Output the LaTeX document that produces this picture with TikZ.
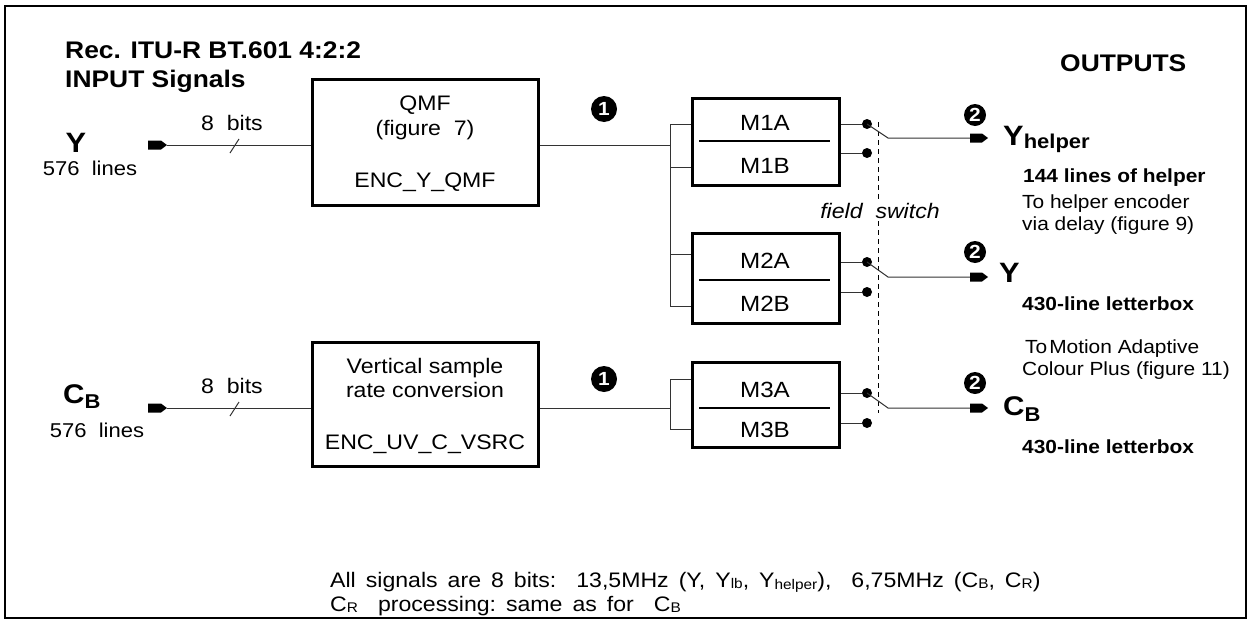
\documentclass[tikz,border=0pt]{standalone}
\usepackage{fontspec}
\setmainfont{Liberation Sans}[FakeStretch=1.1]
\usetikzlibrary{calc}
\newcommand{\fs}[1]{\fontsize{#1}{#1}\selectfont}
\newcommand{\ws}{\hspace{10pt}}
\begin{document}
\begin{tikzpicture}[x=1pt,y=-1pt,
  bigbox/.style={draw, line width=3pt, minimum width=226pt, minimum height=126pt, inner sep=0pt},
  mbox/.style={draw, line width=3pt, minimum width=147pt, inner sep=0pt},
  wire/.style={line width=1pt, draw=black!80},
  num/.style={circle, text=white, inner sep=0pt, minimum size=24pt, font=\fs{19}\bfseries},
  sdot/.style={circle, inner sep=0pt, minimum size=10pt},
  txt/.style={inner sep=0pt, anchor=base, font=\fs{21}},
  lt/.style={inner sep=0pt, anchor=base west},
  term/.style={fill=black},
]
\useasboundingbox (0,0) rectangle (1250,624);
\draw[line width=1.2pt] (5,6) rectangle (1246,618);

% titles
\node[lt, font=\fs{24}\bfseries] (t1) at (65,58) {Rec. ITU-R BT.601 4:2:2};
\node[lt, font=\fs{24}\bfseries] (t2) at (65,87) {INPUT Signals};
\node[lt, font=\fs{24}\bfseries] (out) at (1060,71) {OUTPUTS};

% inputs
\node[txt, font=\fs{28}\bfseries] (yin) at (76,152) {Y};
\node[txt, font=\fs{20}] (yinl) at (90,175) {576\ \ lines};
\node[lt, font=\fs{27}\bfseries] (cbin) at (63,403) {C\raisebox{-5pt}{\fs{20}B}};
\node[txt, font=\fs{20}] (cbinl) at (97,437) {576\ \ lines};
\node[txt] (b1) at (232,130) {8\ \ bits};
\node[txt] (b2) at (232,393) {8\ \ bits};

% input terminals
\coordinate (ty0) at (148,145); \coordinate (ty) at (167,145);
\coordinate (tc0) at (148,408); \coordinate (tc) at (167,408);
\fill[term] (ty0) ++(0,-4.5) -- ++(13,0) -- ++(6,4.5) -- ++(-6,4.5) -- ++(-13,0) -- cycle;
\fill[term] (tc0) ++(0,-4.5) -- ++(13,0) -- ++(6,4.5) -- ++(-6,4.5) -- ++(-13,0) -- cycle;

% big boxes
\node[bigbox] (qmf) at (425,142) {};
\node[bigbox, minimum height=124pt] (vsrc) at (425,404) {};
\node[txt] (q1) at (425,110) {QMF};
\node[txt] (q2) at (425,135) {(figure\ \ 7)};
\node[txt] (q3) at (425,187) {ENC\_Y\_QMF};
\node[txt] (v1) at (425,373) {Vertical sample};
\node[txt] (v2) at (425,397) {rate conversion};
\node[txt] (v3) at (425,449) {ENC\_UV\_C\_VSRC};

\draw[wire] (ty) -- (ty -| qmf.west);
\draw[wire] (tc) -- (tc -| vsrc.west);
\draw[wire] (230,153) -- (239,139);
\draw[wire] (230,416) -- (239,402);

% circled numbers
\fill (604,109) circle (13) node[num] (n1a) {1};
\fill (604,379) circle (13) node[num] (n1b) {1};
\fill (975,115) circle (11) node[num] (n2a) {2};
\fill (975,252) circle (11) node[num] (n2b) {2};
\fill (975,383) circle (11) node[num] (n2c) {2};

% M boxes
\node[mbox, minimum height=87pt] (m1) at (765.5,141.5) {};
\node[mbox, minimum height=90pt] (m2) at (765.5,278) {};
\node[mbox, minimum height=85pt] (m3) at (765.5,404.5) {};
\draw[line width=1.3pt] (699,141) -- (830,141);
\draw[line width=1.3pt] (699,280) -- (830,280);
\draw[line width=1.3pt] (699,408) -- (830,408);
\node[txt, font=\fs{22}] (m1a) at (765,130) {M1A};
\node[txt, font=\fs{22}] (m1b) at (765,173) {M1B};
\node[txt, font=\fs{22}] (m2a) at (765,268) {M2A};
\node[txt, font=\fs{22}] (m2b) at (765,311) {M2B};
\node[txt, font=\fs{22}] (m3a) at (765,397) {M3A};
\node[txt, font=\fs{22}] (m3b) at (765,437) {M3B};

% junctions
\coordinate (j1) at (670,145);
\coordinate (j1t) at (670,124); \coordinate (j1u) at (670,167);
\coordinate (j2t) at (670,254); \coordinate (j2u) at (670,306);
\coordinate (j3) at (670,408);
\coordinate (j3t) at (670,379); \coordinate (j3u) at (670,429);
\draw[wire] (qmf.east |- j1) -- (j1);
\draw[wire] (j1t) -- (j2u);
\draw[wire] (j1t) -- (j1t -| m1.west);
\draw[wire] (j1u) -- (j1u -| m1.west);
\draw[wire] (j2t) -- (j2t -| m2.west);
\draw[wire] (j2u) -- (j2u -| m2.west);
\draw[wire] (vsrc.east |- j3) -- (j3);
\draw[wire] (j3t) -- (j3u);
\draw[wire] (j3t) -- (j3t -| m3.west);
\draw[wire] (j3u) -- (j3u -| m3.west);

% switch dots
\fill (867,124) circle (5) node[sdot] (d1a) {};
\fill (867,153) circle (5) node[sdot] (d1b) {};
\fill (867,262) circle (5) node[sdot] (d2a) {};
\fill (867,292) circle (5) node[sdot] (d2b) {};
\fill (867,393) circle (5) node[sdot] (d3a) {};
\fill (867,423) circle (5) node[sdot] (d3b) {};
\foreach \d in {d1a,d1b,d2a,d2b,d3a,d3b}{
  \draw[wire] (\d) -- (\d -| m1.east);
}

% dashed field switch line
\draw[line width=1pt, dash pattern=on 5pt off 4pt] (878,122) -- (878,413);
\node[txt, font=\fs{21}\itshape, fill=white, inner sep=2pt] (fsw) at (880,218) {field\ \ switch};

% output terminals
\coordinate (o1) at (970,138); \coordinate (o2) at (970,277); \coordinate (o3) at (970,408);
\coordinate (s1) at (888,138); \coordinate (s2) at (888,277); \coordinate (s3) at (888,408);
\draw[wire] (d1a.center) -- (s1) -- (o1);
\draw[wire] (d2a.center) -- (s2) -- (o2);
\draw[wire] (d3a.center) -- (s3) -- (o3);
\foreach \o in {o1,o2,o3}{
  \fill[term] (\o) ++(0,-4.5) -- ++(12,0) -- ++(6,4.5) -- ++(-6,4.5) -- ++(-12,0) -- cycle;
}

% output labels
\node[lt, font=\fs{28}\bfseries] (yh) at (1003,145) {Y\raisebox{-3pt}{\fs{20}helper}};
\node[lt, font=\fs{19}\bfseries] (l144) at (1023,182) {144 lines of helper};
\node[lt, font=\fs{19}] (th1) at (1022,208) {To helper encoder};
\node[lt, font=\fs{19}] (th2) at (1022,230) {via delay (figure 9)};
\node[lt, font=\fs{28}\bfseries] (yo) at (999,282) {Y};
\node[lt, font=\fs{19}\bfseries] (lb1) at (1022,310) {430-line letterbox};
\node[lt, font=\fs{19}] (tm1) at (1025,353) {To\kern2pt Motion Adaptive};
\node[lt, font=\fs{19}] (tm2) at (1022,375) {Colour Plus (figure 11)};
\node[lt, font=\fs{27}\bfseries] (cbo) at (1003,415) {C\raisebox{-6pt}{\fs{20}B}};
\node[lt, font=\fs{19}\bfseries] (lb2) at (1022,453) {430-line letterbox};

% notes
\node[lt, font=\fs{21}] (note1) at (330,587) {All\ws signals\ws are\ws 8\ws bits:\ws\ws 13,5MHz\ws (Y,\ws Y\raisebox{-1pt}{\fs{14}lb},\ws Y\raisebox{-2pt}{\fs{14}helper}),\ws\ws 6,75MHz\ws (C\raisebox{-1pt}{\fs{14}B},\ws C\raisebox{-1pt}{\fs{14}R})};
\node[lt, font=\fs{21}] (note2) at (330,611) {C\raisebox{-1pt}{\fs{14}R}\ws\ws processing:\ws same\ws as\ws for\ws\ws C\raisebox{-1pt}{\fs{14}B}};
\end{tikzpicture}
\end{document}
